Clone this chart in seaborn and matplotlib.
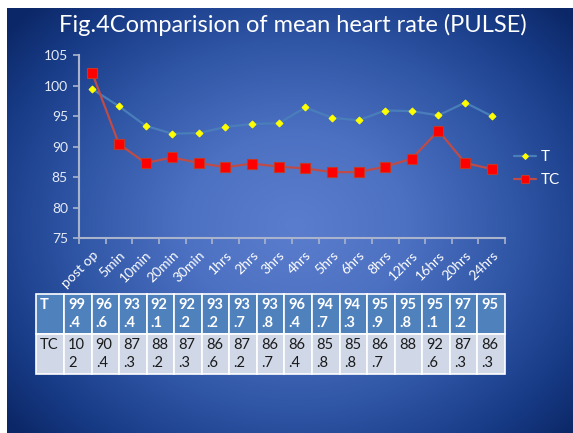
import numpy as np
import pandas as pd
import matplotlib
matplotlib.use('Agg')
import matplotlib.pyplot as plt
from matplotlib.colors import LinearSegmentedColormap
import seaborn as sns

# data
times = ['post op', '5min', '10min', '20min', '30min', '1hrs', '2hrs', '3hrs',
         '4hrs', '5hrs', '6hrs', '8hrs', '12hrs', '16hrs', '20hrs', '24hrs']
t_vals = [99.4, 96.6, 93.4, 92.1, 92.2, 93.2, 93.7, 93.8,
          96.4, 94.7, 94.3, 95.9, 95.8, 95.1, 97.2, 95]
tc_vals = [102, 90.4, 87.3, 88.2, 87.3, 86.6, 87.2, 86.7,
           86.4, 85.8, 85.8, 86.7, 88, 92.6, 87.3, 86.3]

df = pd.DataFrame({'pos': range(len(times)), 'time': times, 'T': t_vals, 'TC': tc_vals})

sns.set_theme(style='white')
plt.rcParams['font.family'] = ['Lato', 'DejaVu Sans']

W, H = 573, 433
fig = plt.figure(figsize=(W / 100, H / 100), dpi=100, facecolor='white')

# radial gradient background (slide look)
bg = fig.add_axes([7 / W, 0, 1 - 7 / W, 1 - 8 / H], zorder=-10)
yy, xx = np.mgrid[8:H, 7:W]
r = np.sqrt((xx - 295) ** 2 + ((yy - 225) * 1.2) ** 2) / 370
r = np.clip(r, 0, 1)
cmap = LinearSegmentedColormap.from_list(
    'slide', [(0, '#5b7dcd'), (0.3, '#4d71c2'), (0.6, '#2f55a5'), (0.85, '#173a85'), (1, '#0c2868')])
bg.imshow(r, cmap=cmap, aspect='auto', extent=[0, 1, 0, 1], vmin=0, vmax=1)
bg.axis('off')

# main chart
x0, x1 = 79, 505
y_top, y_bot = 55, 238
ax = fig.add_axes([x0 / W, 1 - y_bot / H, (x1 - x0) / W, (y_bot - y_top) / H])
ax.patch.set_alpha(0)

sns.lineplot(data=df, x='pos', y='T', ax=ax, color='#4a7ebb', lw=1.6,
             marker='D', markersize=3.5, markerfacecolor='#ffff00',
             markeredgecolor='#ffff00', label='T')
sns.lineplot(data=df, x='pos', y='TC', ax=ax, color='#be4b48', lw=1.6,
             marker='s', markersize=6.5, markerfacecolor='#ff0000',
             markeredgecolor='#c0392b', markeredgewidth=0.8, label='TC')

ax.set_ylim(75, 105)
ax.set_yticks(range(75, 106, 5))
ax.set_xlim(-0.5, len(times) - 0.5)
ax.set_xticks(range(len(times)))
ax.set_xticklabels(times, rotation=45, ha='right', rotation_mode='anchor')
ax.set_xticks(np.arange(-0.5, len(times), 1), minor=True)
ax.tick_params(axis='x', which='major', length=0, pad=8, labelsize=10, labelcolor='white')
ax.tick_params(axis='x', which='minor', length=4, width=1.2, color='#a9b4cc', direction='out', bottom=True)
ax.tick_params(axis='y', length=4, width=1.2, color='#a9b4cc', direction='out', left=True,
               labelsize=10, labelcolor='#e6ebf5', pad=4)
ax.set_xlabel('')
ax.set_ylabel('')
for side in ['top', 'right']:
    ax.spines[side].set_visible(False)
for side in ['left', 'bottom']:
    ax.spines[side].set_color('#a9b4cc')
    ax.spines[side].set_linewidth(1.5)

leg = ax.legend(loc='center left', bbox_to_anchor=(0.99, 0.38), frameon=False,
                handlelength=1.4, handletextpad=0.3, labelspacing=0.6, fontsize=11,
                markerscale=0.85)
for txt in leg.get_texts():
    txt.set_color('white')

fig.text(293 / W, 1 - 25 / H, 'Fig.4Comparision of mean heart rate (PULSE)',
         ha='center', va='center', color='white', fontsize=17)

# data table under the chart
def wrap(v):
    s = f'{v:g}'
    return s[:2] + '\n' + s[2:]

cell_text = [['T\n'] + [wrap(v) for v in t_vals],
             ['TC\n'] + [wrap(v) for v in tc_vals]]
tx0, tx1, ty0, ty1 = 36, 505, 294, 374
tax = fig.add_axes([tx0 / W, 1 - ty1 / H, (tx1 - tx0) / W, (ty1 - ty0) / H])
tax.axis('off')
first = 28 / (tx1 - tx0)
rest = (1 - first) / len(times)
tbl = tax.table(cellText=cell_text, cellLoc='left', bbox=[0, 0, 1, 1],
                colWidths=[first] + [rest] * len(times))
tbl.auto_set_font_size(False)
for (row, col), cell in tbl.get_celld().items():
    cell.set_edgecolor('white')
    cell.set_linewidth(1.2)
    cell.PAD = 0.15
    txt = cell.get_text()
    txt.set_fontsize(10.5)
    txt.set_linespacing(1.35)
    if row == 0:
        cell.set_facecolor('#4f81bd')
        txt.set_color('white')
        txt.set_fontweight('bold')
    else:
        cell.set_facecolor('#d0d8e8')
        txt.set_color('#1a1a1a')

fig.savefig('out.png', dpi=100, facecolor='white')
